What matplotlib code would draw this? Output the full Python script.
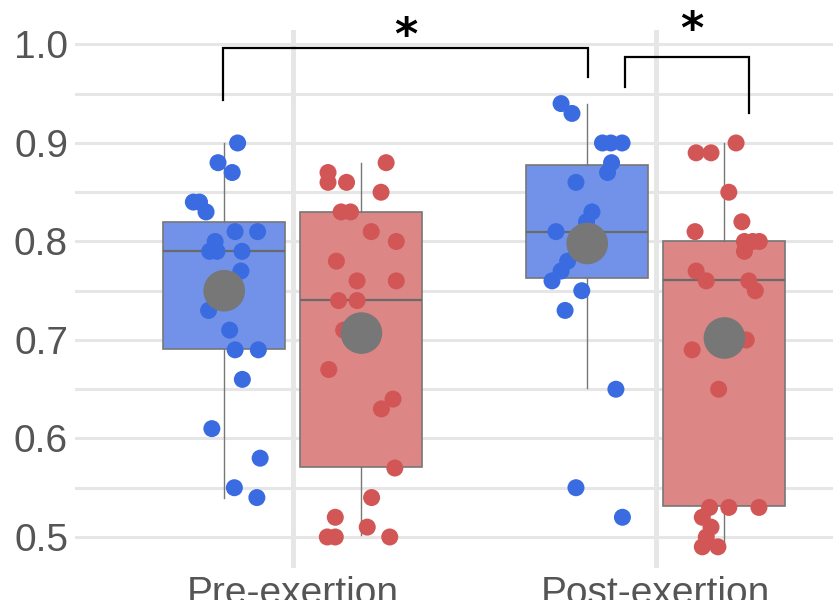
import matplotlib
matplotlib.use("Agg")
import matplotlib.pyplot as plt
import numpy as np

plt.rcParams['font.family'] = ['Liberation Sans', 'DejaVu Sans']

categories = ["Pre-exertion", "Post-exertion"]
series_names = ["blue", "red"]

# box statistics: [pre, post]
blue_q1 = [0.691, 0.763]
blue_med = [0.790, 0.810]
blue_q3 = [0.820, 0.878]
blue_wlo = [0.540, 0.651]
blue_whi = [0.900, 0.940]
blue_mean = [0.750, 0.798]

red_q1 = [0.571, 0.531]
red_med = [0.741, 0.761]
red_q3 = [0.830, 0.800]
red_wlo = [0.502, 0.494]
red_whi = [0.880, 0.900]
red_mean = [0.707, 0.702]

# individual points (values and read-off horizontal jitter)
pre_blue_vals = [0.90, 0.88, 0.87, 0.84, 0.84, 0.83, 0.81, 0.81, 0.80, 0.79, 0.79, 0.79,
                 0.77, 0.73, 0.71, 0.69, 0.69, 0.66, 0.61, 0.58, 0.55, 0.54]
pre_blue_jit = [0.037, -0.017, 0.022, -0.085, -0.068, -0.050, 0.030, 0.092, -0.025, -0.040,
                -0.020, 0.049, 0.046, -0.043, 0.015, 0.030, 0.094, 0.050, -0.034, 0.099,
                0.028, 0.090]

pre_red_vals = [0.88, 0.87, 0.86, 0.86, 0.85, 0.83, 0.83, 0.81, 0.80, 0.78, 0.76, 0.76,
                0.74, 0.74, 0.71, 0.67, 0.64, 0.63, 0.57, 0.54, 0.52, 0.51, 0.50, 0.50, 0.50]
pre_red_jit = [0.068, -0.092, -0.092, -0.041, 0.054, -0.056, -0.030, 0.027, 0.096, -0.069,
               -0.012, 0.096, -0.063, -0.012, -0.049, -0.090, 0.087, 0.055, 0.092, 0.028,
               -0.072, 0.016, -0.094, -0.072, 0.078]

post_blue_vals = [0.94, 0.93, 0.90, 0.90, 0.90, 0.88, 0.87, 0.86, 0.83, 0.82, 0.81, 0.78,
                  0.77, 0.76, 0.75, 0.73, 0.65, 0.55, 0.52]
post_blue_jit = [-0.072, -0.042, 0.042, 0.065, 0.096, 0.067, 0.056, -0.031, 0.013, -0.002,
                 -0.086, -0.054, -0.072, -0.097, -0.015, -0.061, 0.079, -0.031, 0.097]

post_red_vals = [0.90, 0.89, 0.89, 0.85, 0.82, 0.81, 0.80, 0.80, 0.80, 0.79, 0.77, 0.76,
                 0.76, 0.75, 0.70, 0.69, 0.65, 0.53, 0.53, 0.53, 0.52, 0.51, 0.50, 0.49, 0.49]
post_red_jit = [0.032, -0.078, -0.037, 0.012, 0.048, -0.081, 0.055, 0.078, 0.096, 0.055,
                -0.078, -0.050, 0.067, 0.085, 0.060, -0.089, -0.016, -0.041, 0.012, 0.095,
                -0.061, -0.037, -0.050, -0.061, -0.018]

y_ticks = [0.5, 0.6, 0.7, 0.8, 0.9, 1.0]
y_tick_labels = ["0.5", "0.6", "0.7", "0.8", "0.9", "1.0"]

BLUE = "#3b6be0"
BLUE_BOX = "#7192e8"
RED = "#d35656"
RED_BOX = "#dc8686"
GREY = "#777777"

fig = plt.figure(figsize=(8.33, 6.0), dpi=100)
ax = fig.add_axes([75 / 833, 32 / 600, 1 - 75 / 833, (568 - 30) / 600])

xpos = np.arange(len(categories))
off = 0.189
width = 0.336

def stats(q1, med, q3, lo, hi, mean):
    return [dict(q1=q1[i], med=med[i], q3=q3[i], whislo=lo[i], whishi=hi[i],
                 mean=mean[i], fliers=[]) for i in range(len(q1))]

for st, dx, fc in [(stats(blue_q1, blue_med, blue_q3, blue_wlo, blue_whi, blue_mean), -off, BLUE_BOX),
                   (stats(red_q1, red_med, red_q3, red_wlo, red_whi, red_mean), off, RED_BOX)]:
    ax.bxp(st, positions=xpos + dx, widths=width, patch_artist=True, showcaps=False,
           showfliers=False, manage_ticks=False,
           boxprops=dict(facecolor=fc, edgecolor=GREY, linewidth=1.2),
           medianprops=dict(color="#6a6a6a", linewidth=1.6),
           whiskerprops=dict(color=GREY, linewidth=1.0), zorder=2)

pts = [(pre_blue_vals, pre_blue_jit, 0, -off, BLUE),
       (pre_red_vals, pre_red_jit, 0, off, RED),
       (post_blue_vals, post_blue_jit, 1, -off, BLUE),
       (post_red_vals, post_red_jit, 1, off, RED)]
for vals, jit, c, dx, col in pts:
    ax.scatter(xpos[c] + dx + np.array(jit), vals, s=150, color=col, edgecolors="none", zorder=3)

ax.scatter(xpos - off, blue_mean, s=900, color=GREY, edgecolors="none", zorder=4)
ax.scatter(xpos + off, red_mean, s=900, color=GREY, edgecolors="none", zorder=4)

# significance brackets
def bracket(x1, x2, ytop, y1, y2, xs, ys):
    ax.plot([x1, x1, x2, x2], [y1, ytop, ytop, y2], color="black", lw=1.6,
            clip_on=False, zorder=5, solid_joinstyle="miter")
    ax.text(xs, ys, "*", fontsize=32, fontweight="bold", ha="center", va="center",
            color="black", clip_on=False, family=["DejaVu Sans"])

bracket(-0.193, 0.813, 0.9965, 0.944, 0.967, 0.311, 1.008)
bracket(0.915, 1.256, 0.987, 0.957, 0.930, 1.099, 1.014)

ax.set_xlim(-0.60, 1.488)
ax.set_ylim(0.4685, 1.0147)
ax.set_yticks(y_ticks)
ax.set_yticklabels(y_tick_labels)
ax.set_yticks(np.arange(0.55, 1.0, 0.1), minor=True)
ax.set_xticks(xpos)
ax.set_xticklabels(categories)
ax.tick_params(axis="both", which="both", length=0, labelsize=28, colors="#555555")
ax.tick_params(axis="y", pad=5)
ax.tick_params(axis="x", pad=6)
ax.grid(True, which="both", axis="y", color="#e6e6e6", linewidth=2.2, zorder=0)
ax.grid(True, which="major", axis="x", color="#e6e6e6", linewidth=3.5, zorder=0)
ax.set_axisbelow(True)
for s in ax.spines.values():
    s.set_visible(False)

fig.savefig("out.png", dpi=100)
